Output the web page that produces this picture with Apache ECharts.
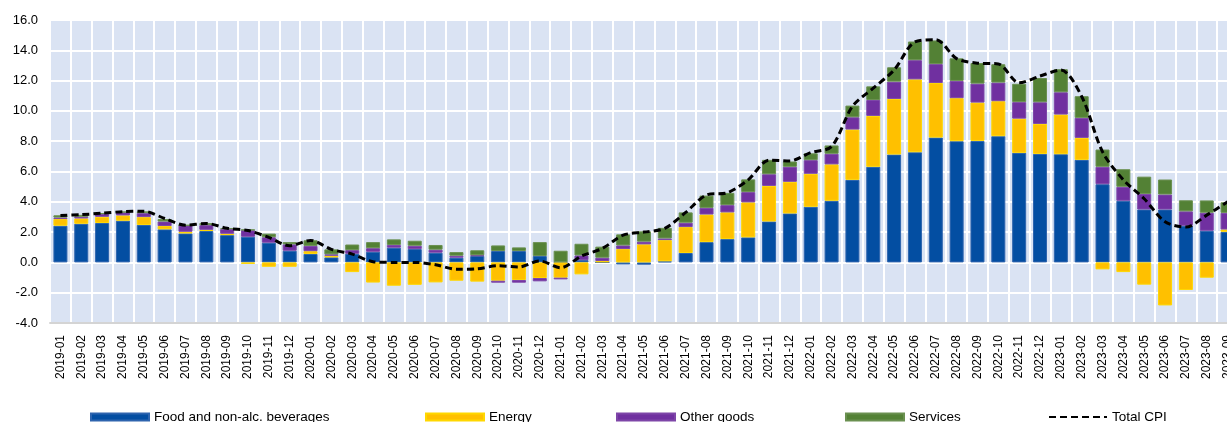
<!DOCTYPE html>
<html>
<head>
<meta charset="utf-8">
<script src="https://cdn.jsdelivr.net/npm/echarts@6/dist/echarts.min.js"></script>
<style>
html,body{margin:0;padding:0;background:#fff;overflow:hidden;width:1227px;height:422px;}
#chart{width:1240px;height:422px;}
</style>
</head>
<body>
<div id="chart"></div>
<script>
const months = ['2019-01','2019-02','2019-03','2019-04','2019-05','2019-06','2019-07','2019-08','2019-09','2019-10','2019-11','2019-12',
'2020-01','2020-02','2020-03','2020-04','2020-05','2020-06','2020-07','2020-08','2020-09','2020-10','2020-11','2020-12',
'2021-01','2021-02','2021-03','2021-04','2021-05','2021-06','2021-07','2021-08','2021-09','2021-10','2021-11','2021-12',
'2022-01','2022-02','2022-03','2022-04','2022-05','2022-06','2022-07','2022-08','2022-09','2022-10','2022-11','2022-12',
'2023-01','2023-02','2023-03','2023-04','2023-05','2023-06','2023-07','2023-08','2023-09'];

const food = [2.42,2.55,2.6,2.75,2.47,2.18,1.91,2.07,1.8,1.69,1.3,0.77,
0.56,0.33,0.57,0.7,0.97,0.88,0.64,0.31,0.42,0.75,0.75,0.42,
0.02,0.15,0.0,-0.13,-0.15,0.07,0.62,1.34,1.54,1.65,2.7,3.23,
3.67,4.07,5.45,6.31,7.12,7.27,8.24,8.0,8.02,8.33,7.23,7.16,
7.14,6.77,5.16,4.07,3.49,3.49,2.42,2.09,2.02];

const energy = [0.44,0.35,0.41,0.35,0.52,0.22,0.11,0.08,0.09,-0.1,-0.29,-0.29,
0.18,0.11,-0.64,-1.33,-1.54,-1.48,-1.32,-1.21,-1.27,-1.21,-1.16,-1.03,
-1.01,-0.79,0.09,0.88,1.19,1.4,1.71,1.82,1.76,2.31,2.35,2.09,
2.18,2.4,3.32,3.36,3.67,4.81,3.6,2.84,2.53,2.31,2.26,1.98,
2.62,1.45,-0.46,-0.64,-1.47,-2.84,-1.82,-1.01,0.15];

const otherGoods = [0.1,0.11,0.19,0.2,0.26,0.3,0.42,0.31,0.31,0.44,0.36,0.42,
0.35,0.09,0.24,0.24,0.18,0.22,0.2,0.13,0.05,-0.13,-0.18,-0.22,
-0.11,0.31,0.22,0.24,0.18,0.11,0.29,0.44,0.48,0.68,0.77,0.99,
0.9,0.7,0.81,1.05,1.14,1.27,1.25,1.14,1.25,1.23,1.09,1.43,
1.47,1.32,1.15,0.92,1.03,0.99,0.95,1.19,1.1];

const services = [0.15,0.13,0.05,0.05,0.12,0.16,0.02,0.13,0.06,0.03,0.24,0.15,
0.37,0.33,0.37,0.4,0.37,0.33,0.31,0.24,0.33,0.37,0.24,0.92,
0.75,0.77,0.73,0.73,0.68,0.7,0.68,0.81,0.81,0.84,0.95,0.35,
0.45,0.55,0.77,0.9,0.95,1.23,1.56,1.49,1.36,1.21,1.21,1.6,
1.52,1.43,1.14,1.16,1.14,0.99,0.73,0.81,0.7];

const totalCPI = [3.1,3.15,3.25,3.35,3.38,2.9,2.46,2.57,2.25,2.1,1.65,1.1,
1.45,0.86,0.55,0.05,0.0,0.0,-0.15,-0.45,-0.42,-0.22,-0.3,0.09,
-0.35,0.42,0.92,1.8,2.0,2.25,3.3,4.45,4.6,5.45,6.75,6.7,
7.25,7.65,10.3,11.5,12.7,14.55,14.7,13.45,13.15,13.1,11.85,12.3,
12.7,10.95,7.3,5.45,4.2,2.68,2.33,3.12,4.0];

const yTicks = {min: -4, max: 16, step: 2};

const FONT = 'Liberation Sans, Arial, sans-serif';
const chart = echarts.init(document.getElementById('chart'), null, {renderer: 'canvas', width: 1240, height: 422});

function barSeries(name, data, color, border) {
  return {
    name: name, type: 'bar', stack: 'cpi', data: data, barWidth: 14,
    itemStyle: {color: color, borderColor: border, borderWidth: 1},
    emphasis: {disabled: true}
  };
}

function legendAt(name, left, icon) {
  const l = {
    data: [name], left: left, top: 410, itemWidth: 58, itemHeight: 7, itemGap: 0,
    textStyle: {fontFamily: FONT, fontSize: 13.5, color: '#000'},
    selectedMode: false, padding: 0
  };
  if (icon) l.icon = icon;
  else l.data = [{name: name, itemStyle: {opacity: 0}}];
  return l;
}

const option = {
  animation: false,
  backgroundColor: '#fff',
  textStyle: {fontFamily: FONT},
  grid: {left: 50, top: 20, right: 2, height: 303, show: true, backgroundColor: '#DAE3F3', borderWidth: 0, containLabel: false},
  legend: [
    legendAt('Food and non-alc. beverages', 90, 'rect'),
    legendAt('Energy', 425, 'rect'),
    legendAt('Other goods', 616, 'rect'),
    legendAt('Services', 845, 'rect'),
    legendAt('Total CPI', 1048)
  ],
  xAxis: [{
    type: 'category', data: months, boundaryGap: true,
    axisLine: {show: false}, axisTick: {show: false},
    axisLabel: {rotate: 90, interval: 0, fontSize: 12, color: '#000', margin: 12, fontFamily: FONT},
    splitLine: {show: true, interval: 0, lineStyle: {color: '#ffffff', width: 2}}
  }, {
    type: 'category', data: months, boundaryGap: true, position: 'bottom',
    axisLine: {show: true, onZero: true, lineStyle: {color: '#D4D4D4', width: 2}},
    axisTick: {show: false}, axisLabel: {show: false}, splitLine: {show: false}
  }],
  yAxis: {
    type: 'value', min: yTicks.min, max: yTicks.max, interval: yTicks.step,
    axisLine: {show: false}, axisTick: {show: false},
    axisLabel: {formatter: v => v.toFixed(1), fontSize: 13, color: '#000', margin: 12, fontFamily: FONT},
    splitLine: {show: true, lineStyle: {color: '#ffffff', width: 2}}
  },
  series: [
    barSeries('Food and non-alc. beverages', food, '#034EA2', '#2E64AE'),
    barSeries('Energy', energy, '#FFC000', '#FFD700'),
    barSeries('Other goods', otherGoods, '#7030A0', '#7E46A8'),
    barSeries('Services', services, '#538135', '#6A9050'),
    {
      name: 'Total CPI', type: 'line', data: totalCPI, smooth: 0.3, symbol: 'none', z: 5,
      lineStyle: {color: '#000', width: 3, type: [7, 4]},
      itemStyle: {color: '#000'},
      emphasis: {disabled: true}
    }
  ]
};
chart.setOption(option);
</script>
</body>
</html>
